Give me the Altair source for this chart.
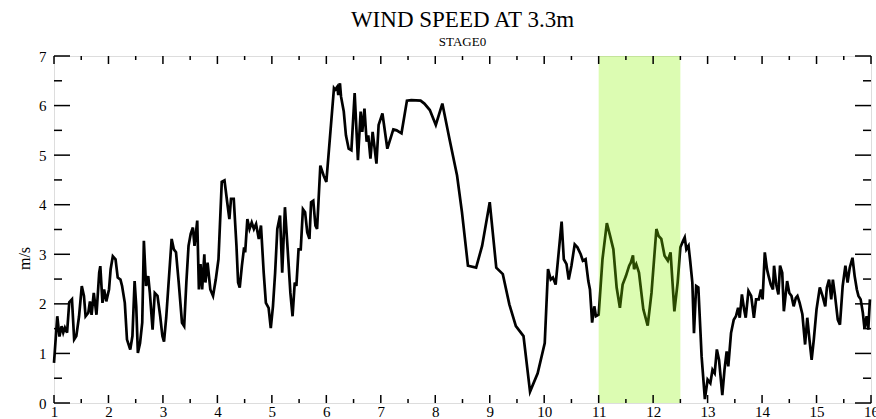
import altair as alt
import pandas as pd

# Time axis (days) and 3.3 m wind speed (m/s)
time_days = [
    1.00, 1.06, 1.10, 1.14, 1.17, 1.20, 1.24, 1.28, 1.33, 1.37, 1.41, 1.46, 1.51, 1.55,
    1.58, 1.63, 1.66, 1.69, 1.73, 1.78, 1.83, 1.85, 1.89, 1.92, 1.96, 2.01, 2.04, 2.08,
    2.13, 2.17, 2.22, 2.25, 2.30, 2.34, 2.40, 2.44, 2.48, 2.51, 2.54, 2.58, 2.62, 2.65,
    2.69, 2.73, 2.76, 2.81, 2.85, 2.90, 2.95, 2.99, 3.02, 3.06, 3.10, 3.16, 3.20, 3.24,
    3.29, 3.35, 3.39, 3.43, 3.47, 3.51, 3.55, 3.58, 3.63, 3.66, 3.69, 3.72, 3.76, 3.78,
    3.82, 3.87, 3.92, 3.97, 4.02,
    4.08, 4.13, 4.18, 4.22, 4.25, 4.30, 4.35, 4.38, 4.41, 4.45, 4.49, 4.51, 4.55, 4.59,
    4.63, 4.67, 4.71, 4.76, 4.80, 4.85, 4.89, 4.94, 4.98, 5.02, 5.06, 5.10, 5.15, 5.19,
    5.24, 5.29, 5.34, 5.38, 5.42, 5.45, 5.49, 5.53, 5.57, 5.61, 5.65, 5.69, 5.72, 5.76,
    5.80, 5.83, 5.89, 5.95, 6.00, 6.08, 6.14, 6.16, 6.20, 6.22, 6.25, 6.27, 6.32, 6.36,
    6.41, 6.46, 6.52, 6.58, 6.63, 6.66, 6.70, 6.74, 6.77, 6.81, 6.85, 6.88, 6.92, 6.96,
    7.03, 7.12, 7.23, 7.29, 7.38, 7.48, 7.56, 7.73, 7.80, 7.90, 8.01, 8.13, 8.26, 8.40,
    8.49, 8.60, 8.75, 8.86, 9.00, 9.12, 9.24, 9.36, 9.48, 9.62, 9.74, 9.88, 10.01,
    10.07, 10.12, 10.16, 10.21, 10.26, 10.32, 10.36, 10.41, 10.45, 10.50, 10.56, 10.61,
    10.67, 10.71, 10.76, 10.81, 10.84, 10.88, 10.92, 10.95, 11.00, 11.07, 11.15, 11.21,
    11.27, 11.33, 11.39, 11.44, 11.50, 11.56, 11.59, 11.63, 11.65, 11.69, 11.74, 11.82,
    11.90, 11.97, 12.06, 12.10, 12.15, 12.21, 12.27, 12.32, 12.39, 12.45, 12.50, 12.55,
    12.58, 12.61, 12.65, 12.68, 12.72, 12.75, 12.79, 12.83, 12.87, 12.89, 12.95,
    13.00, 13.05, 13.09, 13.13, 13.17, 13.21, 13.27, 13.31, 13.35, 13.38, 13.43, 13.48,
    13.52, 13.56, 13.59, 13.63, 13.67, 13.70, 13.75, 13.80, 13.85, 13.89, 13.94, 13.98,
    14.01, 14.05, 14.09, 14.12, 14.16, 14.20, 14.22, 14.26, 14.30, 14.33, 14.37, 14.40,
    14.46, 14.50, 14.54, 14.58, 14.62, 14.65, 14.69, 14.74, 14.79, 14.83, 14.87, 14.91,
    14.95, 15.00, 15.06, 15.11, 15.16, 15.19, 15.23, 15.27, 15.30, 15.34, 15.39, 15.43,
    15.48, 15.53, 15.57, 15.61, 15.66, 15.70, 15.74, 15.77, 15.81, 15.85, 15.88, 15.92,
    15.95, 15.98,
]
wind_speed = [
    0.81, 1.75, 1.34, 1.55, 1.42, 1.52, 1.42, 2.03, 2.09, 1.28, 1.35, 1.75, 2.36, 2.16,
    1.75, 1.82, 2.05, 1.78, 2.22, 1.78, 2.63, 2.76, 2.02, 2.29, 2.05, 2.29, 2.70, 2.96,
    2.90, 2.53, 2.49, 2.36, 2.02, 1.28, 1.08, 1.35, 2.46, 1.95, 1.01, 1.21, 1.62, 3.27,
    2.36, 2.56, 2.22, 1.48, 2.22, 2.16, 1.75, 1.35, 1.24, 1.72, 2.36, 3.31, 3.10, 3.04,
    2.43, 1.62, 1.55, 2.43, 3.17, 3.41, 3.54, 3.17, 3.68, 2.29, 2.80, 2.29, 3.00, 2.43,
    2.83, 2.29, 2.16, 2.49, 2.90,
    4.46, 4.49, 4.05, 3.71, 4.12, 4.12, 3.17, 2.43, 2.33, 2.77, 3.14, 3.04, 3.71, 3.51,
    3.64, 3.51, 3.61, 3.31, 3.58, 2.63, 2.02, 1.92, 1.51, 1.95, 2.63, 3.51, 3.78, 2.63,
    3.95, 3.10, 2.22, 1.75, 2.43, 2.36, 3.10, 3.10, 3.91, 3.85, 3.44, 3.31, 4.05, 4.08,
    3.58, 3.51, 4.79, 4.59, 4.46, 5.54, 6.35, 6.32, 6.38, 6.21, 6.45, 6.18, 5.88, 5.40,
    5.13, 5.10, 6.25, 4.90, 5.88, 5.47, 5.94, 5.27, 5.40, 4.93, 5.47, 5.20, 4.83, 5.61,
    5.84, 5.13, 5.52, 5.50, 5.44, 6.10, 6.11, 6.10, 6.04, 5.91, 5.61, 6.04, 5.33, 4.59,
    3.85, 2.77, 2.73, 3.17, 4.05, 2.73, 2.60, 1.99, 1.55, 1.35, 0.23, 0.60, 1.21,
    2.70, 2.49, 2.53, 2.39, 2.97, 3.66, 2.90, 2.80, 2.49, 2.77, 3.20, 3.14,
    3.00, 2.87, 2.90, 2.46, 2.29, 1.62, 1.95, 1.75, 1.78, 2.90, 3.63, 3.37,
    3.10, 2.33, 1.92, 2.39, 2.56, 2.77, 2.83, 2.98, 2.70, 2.80, 2.63, 1.89,
    1.56, 2.22, 3.51, 3.37, 3.31, 2.97, 2.87, 3.04, 1.85, 2.43, 3.14, 3.27,
    3.34, 3.10, 3.17, 2.87, 2.43, 1.41, 2.36, 2.33, 1.41, 0.94, 0.08,
    0.47, 0.40, 0.67, 0.60, 1.08, 0.87, 0.16, 0.67, 1.04, 0.74, 1.41, 1.68,
    1.75, 1.92, 1.72, 2.19, 1.89, 1.72, 2.26, 2.16, 1.72, 2.09, 2.09, 2.29,
    2.09, 3.04, 2.70, 2.56, 2.39, 2.29, 2.77, 2.39, 2.19, 2.77, 2.63, 1.85,
    2.46, 2.22, 2.16, 1.95, 2.12, 2.16, 2.02, 1.79, 1.18, 1.72, 1.28, 0.87,
    1.28, 1.89, 2.33, 2.16, 1.95, 2.33, 2.49, 2.09, 2.49, 2.16, 1.68, 1.58,
    2.36, 2.77, 2.43, 2.73, 2.93, 2.56, 2.29, 2.16, 2.09, 1.82, 1.51, 1.75,
    1.48, 2.09,
]

# Highlighted period
shade_start = [11.0]
shade_end = [12.5]

# Tick positions
x_major = [1, 2, 3, 4, 5, 6, 7, 8, 9, 10, 11, 12, 13, 14, 15, 16]
x_minor = [1.5, 2.5, 3.5, 4.5, 5.5, 6.5, 7.5, 8.5, 9.5, 10.5, 11.5, 12.5, 13.5, 14.5, 15.5]
y_major = [0, 1, 2, 3, 4, 5, 6, 7]
y_minor = [0.5, 1.5, 2.5, 3.5, 4.5, 5.5, 6.5]

W, H = 817, 347
FONT = "Liberation Serif"

xscale = alt.Scale(domain=[1, 16], nice=False, zero=False)
yscale = alt.Scale(domain=[0, 7], nice=False, zero=False)

# One axis definition per channel, shared by every layer so they merge cleanly
x_axis = alt.Axis(values=x_major, format="d", ticks=False, tickSize=0,
                  domain=False, grid=False, labelFont=FONT, labelFontSize=15,
                  labelColor="black", labelPadding=1, labelFlush=False, title=None)
y_axis = alt.Axis(values=y_major, format="d", ticks=False, tickSize=0,
                  domain=False, grid=False, labelFont=FONT, labelFontSize=15,
                  labelColor="black", labelPadding=8, title="m/s",
                  titleFont=FONT, titleFontSize=16, titleFontWeight="normal",
                  titleColor="black", titleX=-22, titleY=202)

series = pd.DataFrame({"t": time_days, "v": wind_speed})

line = alt.Chart(series).mark_line(color="black", strokeWidth=2.7).encode(
    x=alt.X("t:Q", scale=xscale, axis=x_axis),
    y=alt.Y("v:Q", scale=yscale, axis=y_axis),
)

shade = alt.Chart(pd.DataFrame({"t": shade_start, "t2": shade_end})).mark_rect(
    color="#8cf500", opacity=0.3
).encode(
    x=alt.X("t:Q", scale=xscale, axis=x_axis), x2="t2:Q",
    y=alt.value(0), y2=alt.value(H),
)


def xticks(values, length):
    df = pd.DataFrame({"t": values})
    bottom = alt.Chart(df).mark_rule(color="black", strokeWidth=1.5).encode(
        x=alt.X("t:Q", scale=xscale, axis=x_axis), y=alt.value(H), y2=alt.value(H - length))
    top = alt.Chart(df).mark_rule(color="black", strokeWidth=1.5).encode(
        x=alt.X("t:Q", scale=xscale, axis=x_axis), y=alt.value(0), y2=alt.value(length))
    return [bottom, top]


def yticks(values, length):
    df = pd.DataFrame({"v": values})
    left = alt.Chart(df).mark_rule(color="black", strokeWidth=1.5).encode(
        y=alt.Y("v:Q", scale=yscale, axis=y_axis), x=alt.value(0), x2=alt.value(length))
    right = alt.Chart(df).mark_rule(color="black", strokeWidth=1.5).encode(
        y=alt.Y("v:Q", scale=yscale, axis=y_axis), x=alt.value(W), x2=alt.value(W - length))
    return [left, right]


layers = [line, shade]
layers += xticks(x_major, 8) + xticks(x_minor, 4)
layers += yticks(y_major, 16) + yticks(y_minor, 8)

chart = alt.layer(*layers).properties(
    width=W,
    height=H,
    autosize=alt.AutoSizeParams(type="none"),
    padding={"left": 54, "top": 56, "right": 5, "bottom": 16},
    title=alt.TitleParams(
        text="WIND SPEED AT 3.3m",
        subtitle="STAGE0",
        font=FONT, fontSize=23, fontWeight="normal", color="black",
        subtitleFont=FONT, subtitleFontSize=13, subtitleColor="black",
        subtitlePadding=4, anchor="middle", frame="group", offset=0,
    ),
).configure_view(stroke="black", strokeWidth=2).configure(background="white")

chart.save("out.html", embed_options={"renderer": "svg", "actions": False})
